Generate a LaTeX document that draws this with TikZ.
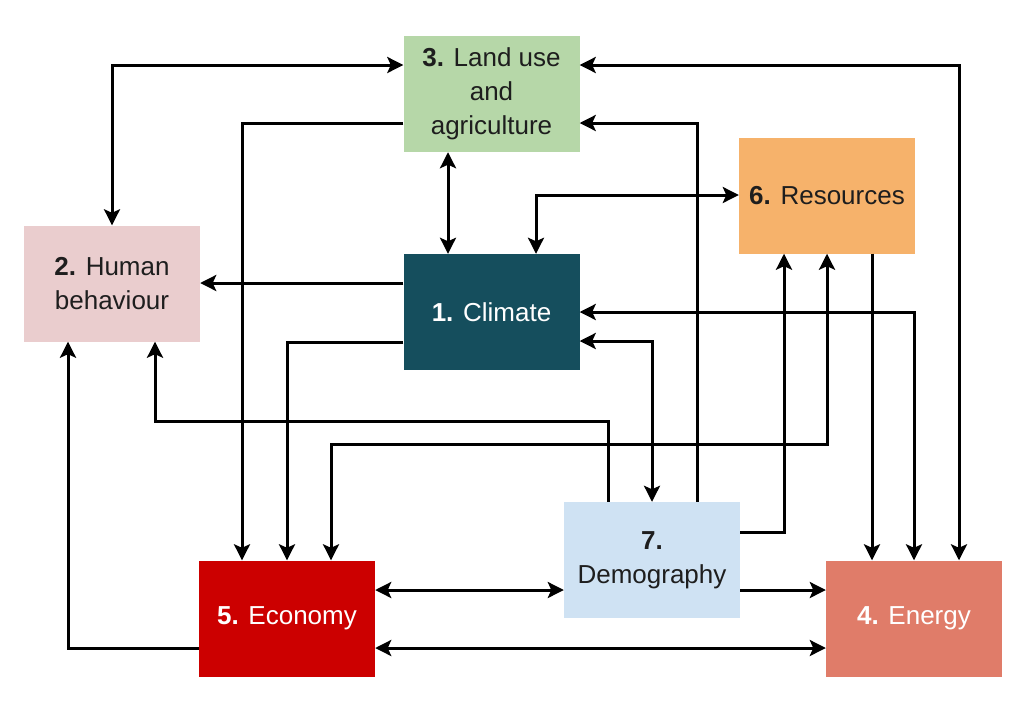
\documentclass[tikz,border=0pt]{standalone}
\usepackage{fontspec}
\setmainfont{Liberation Sans}
\usetikzlibrary{arrows.meta}
\definecolor{landc}{HTML}{B6D7A8}
\definecolor{humanc}{HTML}{EACDCE}
\definecolor{climc}{HTML}{154E5D}
\definecolor{resc}{HTML}{F6B26B}
\definecolor{econc}{HTML}{CC0000}
\definecolor{democ}{HTML}{CFE2F3}
\definecolor{energc}{HTML}{E07C69}
\definecolor{darktxt}{HTML}{1E1E1E}
\begin{document}
\begin{tikzpicture}[x=1pt,y=-1pt,
  box/.style={rectangle,draw=none,minimum width=176pt,minimum height=116pt,inner sep=0pt,align=center,
    font=\fontsize{26}{34}\selectfont},
  conn/.style={line width=3pt,draw=black},
  >={Stealth[length=16pt,width=16pt,inset=3.5pt]}]
\useasboundingbox[fill=white] (0,0) rectangle (1030,702);
\node[box,fill=landc,text=darktxt] (land) at (491.5,94) {\textbf{3.} Land use\\and\\agriculture};
\node[box,fill=humanc,text=darktxt] (human) at (112,283.5) {\textbf{2.} Human\\behaviour};
\node[box,fill=climc,text=white] (climate) at (491.5,312) {\textbf{1.} Climate};
\node[box,fill=resc,text=darktxt] (resources) at (827,195.5) {\textbf{6.} Resources};
\node[box,fill=econc,text=white] (economy) at (287,618.5) {\textbf{5.} Economy};
\node[box,fill=democ,text=darktxt] (demography) at (652,560) {\textbf{7.}\\Demography};
\node[box,fill=energc,text=white] (energy) at (914,618.5) {\textbf{4.} Energy};

\draw[conn,<->] (land.west |- 0,65) -| (human.north);
\draw[conn,->] (land.west |- 0,123) -| (economy.north -| 242,0);
\draw[conn,<->] (land.south -| 448,0) -- (climate.north -| 448,0);
\draw[conn,->] (climate.west |- 0,283) -- (human.east |- 0,283);
\draw[conn,->] (climate.west |- 0,342) -| (economy.north);
\draw[conn,<->] (climate.north -| 536,0) |- (resources.west |- 0,195);
\draw[conn,<->] (land.east |- 0,65) -| (energy.north -| 959,0);
\draw[conn,->] (demography.north -| 697,0) |- (land.east |- 0,123);
\draw[conn,<->] (climate.east) -| (energy.north);
\draw[conn,<->] (climate.east |- 0,341) -| (demography.north);
\draw[conn,->] (resources.south -| 872,0) -- (energy.north -| 872,0);
\draw[conn,->] (demography.east |- 0,532) -| (resources.south -| 784,0);
\draw[conn,<->] (economy.north -| 331,0) |- (resources.south |- 0,444) -- (resources.south);
\draw[conn,->] (demography.north -| 608,0) -- ++(0,-80) -| (human.south -| 155,0);
\draw[conn,->] (economy.west |- 0,648) -| (human.south -| 68,0);
\draw[conn,<->] (economy.east |- 0,590) -- (demography.west |- 0,590);
\draw[conn,->] (demography.east |- 0,590) -- (energy.west |- 0,590);
\draw[conn,<->] (economy.east |- 0,648) -- (energy.west |- 0,648);
\end{tikzpicture}
\end{document}
